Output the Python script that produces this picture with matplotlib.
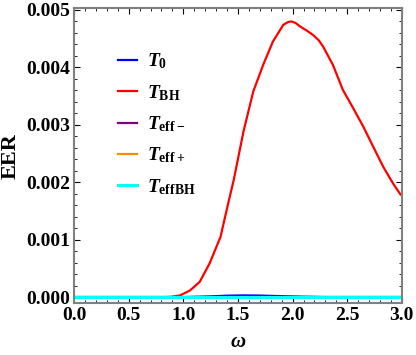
import numpy as np
import matplotlib.pyplot as plt
from matplotlib.ticker import MultipleLocator, FormatStrFormatter

plt.rcParams['font.family'] = 'Liberation Serif'
plt.rcParams['font.weight'] = 'bold'
plt.rcParams['mathtext.fontset'] = 'custom'
plt.rcParams['mathtext.rm'] = 'Liberation Serif:bold'
plt.rcParams['mathtext.bf'] = 'Liberation Serif:bold'
plt.rcParams['mathtext.it'] = 'Liberation Serif:italic:bold'

# red curve, T_BH
w_bh = [0.0, 0.5, 0.7, 0.80, 0.88, 0.97, 1.06, 1.15, 1.24, 1.34, 1.41, 1.46, 1.55,
        1.64, 1.73, 1.82, 1.915, 1.96, 1.99, 2.03, 2.07, 2.13, 2.19, 2.24, 2.28,
        2.37, 2.46, 2.555, 2.647, 2.738, 2.83, 2.92, 2.98, 3.0]
eer_bh = [0.0, 0.0, 0.000001, 0.000003, 0.000008, 0.000035, 0.00012, 0.00027,
          0.00059, 0.00105, 0.00163, 0.00203, 0.00288, 0.00358, 0.00404, 0.00445,
          0.00474, 0.00479, 0.00480, 0.00477, 0.00471, 0.00464, 0.00456, 0.00447,
          0.00436, 0.00404, 0.00361, 0.00329, 0.00297, 0.00262, 0.00227, 0.00198,
          0.00181, 0.00177]

# blue curve, T_0: small bump
w_0 = [0.0, 0.8, 1.0, 1.2, 1.4, 1.55, 1.7, 1.9, 2.1, 2.3, 2.6, 3.0]
eer_0 = [0.0, 0.0, 0.000004, 0.000015, 0.00003, 0.000035, 0.000032, 0.000022,
         0.000012, 0.000005, 0.000001, 0.0]

# the three effective temperatures stay at zero
w_flat = [0.0, 3.0]
eer_flat = [0.0, 0.0]

fig = plt.figure(figsize=(4.16, 3.55), dpi=100)
ax = fig.add_axes([0.178, 0.146, 0.788, 0.831])

ax.plot(w_0, eer_0, color='#0000ff', lw=1.6, label=r'$T_{\rm 0}$')
ax.plot(w_bh, eer_bh, color='#ff0000', lw=1.6, label=r'$T_{\rm BH}$')
ax.plot(w_flat, eer_flat, color='#800080', lw=1.6, label=r'$T_{\rm eff-}$')
ax.plot(w_flat, eer_flat, color='#ff8c00', lw=1.6, label=r'$T_{\rm eff+}$')
ax.plot(w_flat, eer_flat, color='#00ffff', lw=2.2, label=r'$T_{\rm effBH}$')

ax.set_xlim(0, 3.0)
ax.set_ylim(-0.0001, 0.00503)
ax.xaxis.set_major_locator(MultipleLocator(0.5))
ax.xaxis.set_minor_locator(MultipleLocator(0.1))
ax.yaxis.set_major_locator(MultipleLocator(0.001))
ax.yaxis.set_minor_locator(MultipleLocator(0.0002))
ax.xaxis.set_major_formatter(FormatStrFormatter('%.1f'))
ax.yaxis.set_major_formatter(FormatStrFormatter('%.3f'))

ax.tick_params(which='both', direction='in', top=True, right=True, labelsize=14)
ax.tick_params(which='major', length=4, width=0.8, pad=3)
ax.tick_params(which='minor', length=2, width=0.6)
for s in ax.spines.values():
    s.set_color('#808080')
    s.set_linewidth(1.5)

ax.set_xlabel(r'$\omega$', fontsize=15, labelpad=6)
ax.set_ylabel('EER', fontsize=16, fontweight='bold', labelpad=4)

leg = ax.legend(loc='upper left', bbox_to_anchor=(0.08, 0.912), frameon=False,
                fontsize=14, handlelength=1.0, handletextpad=0.5, labelspacing=0.6)

fig.savefig('out.png', dpi=100)
